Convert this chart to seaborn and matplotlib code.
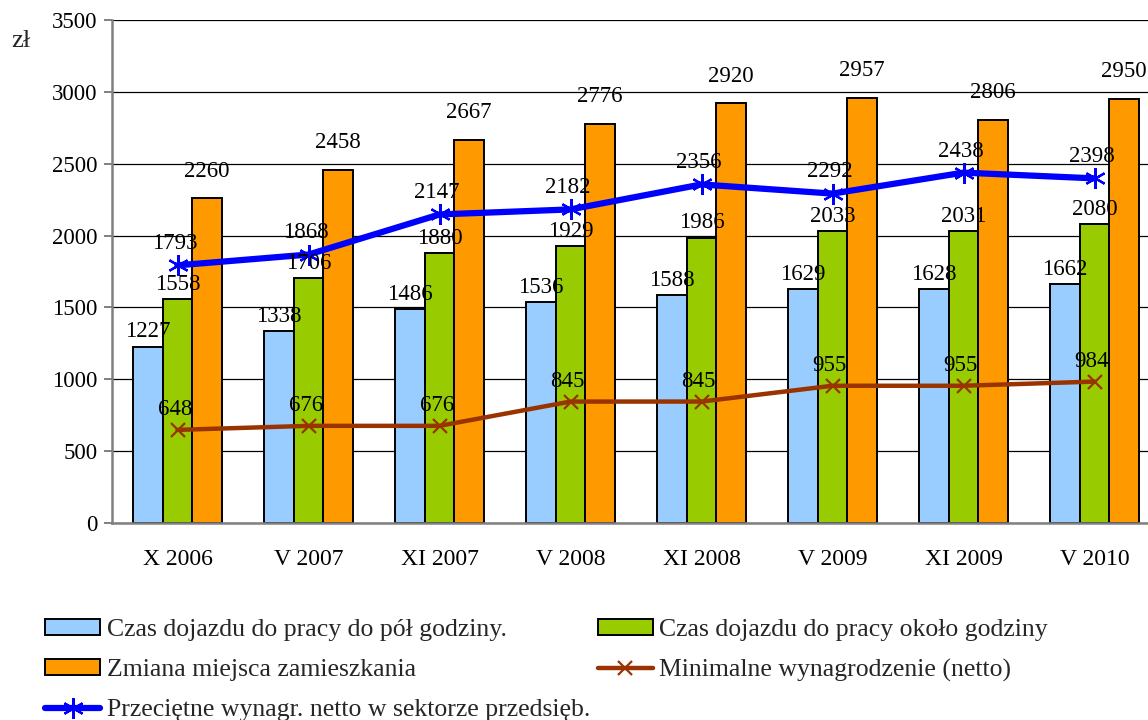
import numpy as np
import pandas as pd
import matplotlib
matplotlib.use("Agg")
import matplotlib.pyplot as plt
import seaborn as sns
from matplotlib.patches import Patch
from matplotlib.lines import Line2D

categories = ["X 2006", "V 2007", "XI 2007", "V 2008", "XI 2008", "V 2009", "XI 2009", "V 2010"]
commute_half_hour = [1227, 1338, 1486, 1536, 1588, 1629, 1628, 1662]
commute_hour = [1558, 1706, 1880, 1929, 1986, 2033, 2031, 2080]
relocation = [2260, 2458, 2667, 2776, 2920, 2957, 2806, 2950]
min_wage = [648, 676, 676, 845, 845, 955, 955, 984]
avg_wage = [1793, 1868, 2147, 2182, 2356, 2292, 2438, 2398]

bar_names = ["Czas dojazdu do pracy do pół godziny.",
             "Czas dojazdu do pracy około godziny",
             "Zmiana miejsca zamieszkania"]
min_name = "Minimalne wynagrodzenie (netto)"
avg_name = "Przeciętne wynagr. netto w sektorze przedsięb."
y_ticks = [0, 500, 1000, 1500, 2000, 2500, 3000, 3500]
unit_label = "zł"

bar_colors = ["#99CCFF", "#99CC00", "#FF9900"]
avg_color = "#0000FF"
min_color = "#993300"

sns.set_theme(style="white")
plt.rcParams["font.family"] = ["Liberation Serif", "DejaVu Serif"]
FS = 16.5
FS_X = 17
FS_LEG = 18.5

W, H = 1148, 720
fig = plt.figure(figsize=(W / 100, H / 100), dpi=100)
ax = fig.add_axes([112 / W, 1 - 523 / H, 1048 / W, 503 / H])

df = pd.DataFrame({
    "okres": categories * 3,
    "seria": [n for n in bar_names for _ in categories],
    "wartosc": commute_half_hour + commute_hour + relocation,
})
sns.barplot(data=df, x="okres", y="wartosc", hue="seria", hue_order=bar_names,
            order=categories, palette=bar_colors, saturation=1, width=0.675,
            edgecolor="black", linewidth=1.4, legend=False, ax=ax, zorder=2)

xpos = np.arange(len(categories))
sns.lineplot(x=xpos, y=min_wage, color=min_color, lw=3.2, marker="x",
             markersize=10, mec=min_color, mew=1.6, ax=ax, zorder=5)
sns.lineplot(x=xpos, y=avg_wage, color=avg_color, lw=4.5, marker=(6, 2, 0),
             markersize=15, mec=avg_color, mew=1.6, ax=ax, zorder=6)

# bar labels
bar_offsets = [3, 3, 12]
for cont, off in zip(ax.containers, bar_offsets):
    for bar in cont:
        xc = bar.get_x() + bar.get_width() / 2
        h = bar.get_height()
        ax.annotate(f"{h:.0f}", xy=(xc, h), xytext=(0, off), textcoords="offset points",
                    ha="center", va="bottom", fontsize=FS, color="black", zorder=10)
for x, v in zip(xpos, avg_wage):
    ax.annotate(f"{v}", xy=(x, v), xytext=(-2, 8), textcoords="offset points",
                ha="center", va="bottom", fontsize=FS, color="black", zorder=10)
for x, v in zip(xpos, min_wage):
    ax.annotate(f"{v}", xy=(x, v), xytext=(-2, 7), textcoords="offset points",
                ha="center", va="bottom", fontsize=FS, color="black", zorder=10)

ax.set_xlim(-0.5, len(categories) - 0.5)
ax.set_ylim(0, 3500)
ax.set_yticks(y_ticks)
ax.set_yticklabels([str(t) for t in y_ticks], fontsize=FS)
ax.set_xticks(xpos)
ax.set_xticklabels(categories, fontsize=FS_X)
ax.set_xticks(np.arange(-0.5, len(categories)), minor=True)
ax.tick_params(axis="x", which="major", length=0, pad=19, colors="black")
ax.tick_params(axis="x", which="minor", direction="out", length=5.5, width=1.4, color="#808080")
ax.tick_params(axis="y", direction="out", length=5.5, width=1.4, color="#808080", pad=5,
               left=True, labelcolor="black")
ax.set_xlabel("")
ax.set_ylabel("")
ax.yaxis.grid(True, color="black", lw=0.9, zorder=0)
ax.xaxis.grid(False)
ax.set_axisbelow(True)
for s in ["left", "bottom"]:
    ax.spines[s].set_color("#808080")
    ax.spines[s].set_linewidth(1.8)
ax.spines["top"].set_visible(False)
ax.spines["right"].set_visible(False)

fig.text(11 / W, 1 - 41 / H, unit_label, fontsize=19, ha="left", va="center")

h_blue = Patch(facecolor=bar_colors[0], edgecolor="black", lw=1.4)
h_green = Patch(facecolor=bar_colors[1], edgecolor="black", lw=1.4)
h_orange = Patch(facecolor=bar_colors[2], edgecolor="black", lw=1.4)
h_min = Line2D([], [], color=min_color, lw=3.2, marker="x", markersize=10, mec=min_color, mew=1.6)
h_avg = Line2D([], [], color=avg_color, lw=4.5, marker=(6, 2, 0), markersize=15, mec=avg_color, mew=1.6)
handles = [h_blue, h_orange, h_avg, h_green, h_min]
labels = [bar_names[0], bar_names[2], avg_name, bar_names[1], min_name]
fig.legend(handles, labels, loc="upper left", bbox_to_anchor=(45 / W, 1 - 619 / H),
           ncol=2, frameon=False, fontsize=FS_LEG, handlelength=2.15, handleheight=0.55,
           handletextpad=0.25, columnspacing=0.3, labelspacing=0.7, borderpad=0,
           borderaxespad=0, numpoints=1)

fig.savefig("out.png", dpi=100)
